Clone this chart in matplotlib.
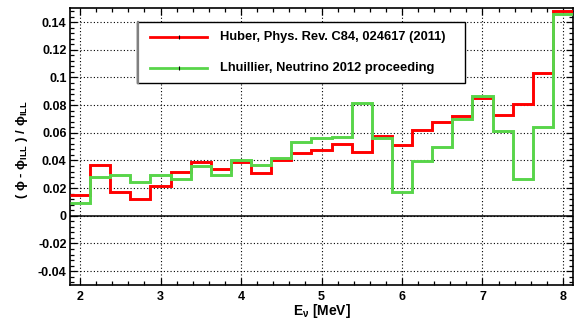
import numpy as np
import matplotlib
matplotlib.use("Agg")
import matplotlib.pyplot as plt
from matplotlib.lines import Line2D
from matplotlib.patches import Rectangle
from matplotlib.ticker import FixedLocator, MultipleLocator, FixedFormatter

plt.rcParams['font.family'] = ['Liberation Sans', 'DejaVu Sans']
plt.rcParams['font.weight'] = 'bold'
plt.rcParams['mathtext.fontset'] = 'custom'
plt.rcParams['mathtext.rm'] = 'Liberation Sans:bold'
plt.rcParams['mathtext.it'] = 'Liberation Sans:bold'
plt.rcParams['mathtext.bf'] = 'Liberation Sans:bold'
plt.rcParams['mathtext.sf'] = 'Liberation Sans:bold'

# ---- data ----
bin_centers = [2.0, 2.25, 2.5, 2.75, 3.0, 3.25, 3.5, 3.75, 4.0, 4.25, 4.5, 4.75,
               5.0, 5.25, 5.5, 5.75, 6.0, 6.25, 6.5, 6.75, 7.0, 7.25, 7.5, 7.75, 8.0]
bin_width = 0.25
huber = [0.0152, 0.0369, 0.0169, 0.0120, 0.0217, 0.0316, 0.0388, 0.0340, 0.0388,
         0.0313, 0.0405, 0.0453, 0.0472, 0.0520, 0.0464, 0.0578, 0.0513, 0.0621,
         0.0681, 0.0722, 0.0850, 0.0729, 0.0807, 0.1035, 0.1480]
lhuillier = [0.0092, 0.0280, 0.0292, 0.0243, 0.0292, 0.0267, 0.0361, 0.0292, 0.0405,
             0.0364, 0.0417, 0.0532, 0.0562, 0.0573, 0.0814, 0.0561, 0.0171, 0.0397,
             0.0496, 0.0698, 0.0869, 0.0616, 0.0265, 0.0640, 0.1456]
series_labels = ["Huber, Phys. Rev. C84, 024617 (2011)",
                 "Lhuillier, Neutrino 2012 proceeding"]
series_colors = ["#ff0000", "#58d54a"]
xticks = [2, 3, 4, 5, 6, 7, 8]
xtick_labels = ["2", "3", "4", "5", "6", "7", "8"]
yticks = [-0.04, -0.02, 0.0, 0.02, 0.04, 0.06, 0.08, 0.1, 0.12, 0.14]
ytick_labels = ["-0.04", "-0.02", "0", "0.02", "0.04", "0.06", "0.08", "0.1", "0.12", "0.14"]
xlabel = r"E$_{\nu}$ [MeV]"
ylabel = r"( $\phi$ - $\phi_{\mathrm{ILL}}$ ) / $\phi_{\mathrm{ILL}}$"

edges = np.array(bin_centers) - bin_width / 2
edges = np.append(edges, bin_centers[-1] + bin_width / 2)

W, H = 575, 320
fig = plt.figure(figsize=(W / 100, H / 100), dpi=100)
L, R, T, B = 70, 573, 8.25, 285
ax = fig.add_axes([L / W, 1 - B / H, (R - L) / W, (B - T) / H])

ax.set_xlim(edges[0], edges[-1])
ax.set_ylim(-0.05, 0.15)

# grid
for xv in xticks:
    ax.axvline(xv, color='black', lw=0.8, ls=(0, (1, 2)), zorder=1)
for yv in yticks:
    ax.axhline(yv, color='black', lw=0.8, ls=(0, (1, 2)), zorder=1)
ax.axhline(0, color='black', lw=1.1, zorder=2)

ax.stairs(huber, edges, baseline=None, color=series_colors[0], lw=2.1, zorder=3)
ax.stairs(lhuillier, edges, baseline=None, color=series_colors[1], lw=2.1, zorder=4)

ax.xaxis.set_major_locator(FixedLocator(xticks))
ax.xaxis.set_major_formatter(FixedFormatter(xtick_labels))
ax.xaxis.set_minor_locator(MultipleLocator(0.2))
ax.yaxis.set_major_locator(FixedLocator(yticks))
ax.yaxis.set_major_formatter(FixedFormatter(ytick_labels))
ax.yaxis.set_minor_locator(MultipleLocator(0.004))
ax.tick_params(which='both', direction='in', top=True, right=True, width=0.9,
               labelsize=9)
ax.tick_params(which='major', length=5)
ax.tick_params(which='minor', length=3)
ax.tick_params(axis='x', which='major', pad=4)
ax.tick_params(axis='y', which='major', pad=2.5)
for lab in ax.get_xticklabels() + ax.get_yticklabels():
    lab.set_fontweight('bold')
for s in ax.spines.values():
    s.set_linewidth(1.2)

fig.text((L + R) / 2 / W, 1 - 311 / H, xlabel, ha='center', va='center',
         fontsize=10, fontweight='bold')
fig.text(22 / W, 1 - 150 / H, ylabel, ha='center', va='center', rotation=90,
         fontsize=9.5, fontweight='bold')

# legend box (pixel geometry -> axes fraction)
def ax_xy(px, py):
    return ((px - L) / (R - L), (B - py) / (B - T))

x0, y0 = ax_xy(137, 83)
x1, y1 = ax_xy(465, 22)
ax.add_patch(Rectangle((x0, y0), x1 - x0, y1 - y0, transform=ax.transAxes,
                       facecolor='white', edgecolor='black', lw=1.0, zorder=10))
gx0, gy0 = ax_xy(137.5, 83)
gx1, gy1 = ax_xy(137.5, 22)
ax.add_line(Line2D([gx0, gx1], [gy0, gy1], transform=ax.transAxes,
                   color='#808080', lw=1.6, zorder=11))
for i, (lab, col) in enumerate(zip(series_labels, series_colors)):
    py = 36.7 + i * 31.6
    ax_, ay_ = ax_xy(150, py)
    bx_, _ = ax_xy(207, py)
    mx_, _ = ax_xy(178.5, py)
    ax.add_line(Line2D([ax_, bx_], [ay_, ay_], transform=ax.transAxes,
                       color=col, lw=2.0, zorder=11))
    ax.add_line(Line2D([mx_], [ay_], transform=ax.transAxes, marker='|',
                       markersize=2.5, color='black', mew=0.8, zorder=12))
    tx, ty = ax_xy(220, py)
    ax.text(tx, ty, lab, transform=ax.transAxes, ha='left', va='center',
            fontsize=9.3, fontweight='bold', zorder=12)

fig.savefig("out.png", dpi=100)
